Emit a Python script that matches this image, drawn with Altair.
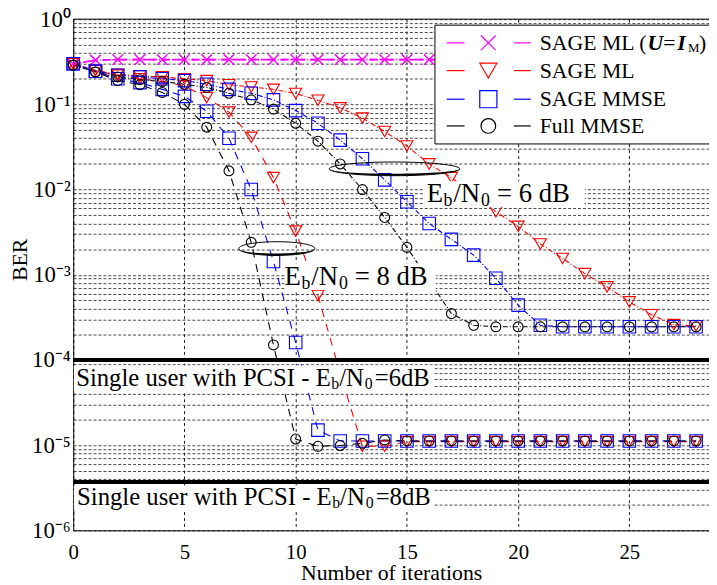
import altair as alt
import pandas as pd

# ---------------- values ----------------
iters = list(range(29))

methods = ["SAGE ML (U=I_M)", "SAGE ML", "SAGE MMSE", "Full MMSE"]
method_colors = ["#ff00ff", "#ff0000", "#0000ff", "#000000"]

ber_mlI_6dB = [0.30, 0.33, 0.335, 0.335, 0.335, 0.335, 0.335, 0.335, 0.335, 0.335,
               0.335, 0.335, 0.335, 0.335, 0.335, 0.335, 0.335, 0.335, 0.335, 0.335,
               0.335, 0.335, 0.335, 0.335, 0.335, 0.335, 0.335, 0.335, 0.335]
ber_mlI_8dB = [0.30, 0.33, 0.335, 0.335, 0.335, 0.335, 0.335, 0.335, 0.335, 0.335,
               0.335, 0.335, 0.335, 0.335, 0.335, 0.335, 0.335, 0.335, 0.335, 0.335,
               0.335, 0.335, 0.335, 0.335, 0.335, 0.335, 0.335, 0.335, 0.335]
ber_ml_6dB = [0.30, 0.25, 0.225, 0.215, 0.21, 0.20, 0.19, 0.17, 0.16, 0.15,
              0.134, 0.112, 0.091, 0.069, 0.048, 0.0325, 0.020, 0.0138, 0.0087, 0.0055,
              0.0037, 0.0023, 0.00155, 0.00103, 0.00072, 0.00048, 0.00034, 0.00026, 0.00025]
ber_ml_8dB = [0.30, 0.25, 0.22, 0.20, 0.185, 0.165, 0.12, 0.081, 0.041, 0.0138,
              0.00325, 0.00057, 0.00007, 0.0000097, 0.0000097, 0.000011, 0.000011, 0.000011, 0.000011, 0.000011,
              0.000011, 0.000011, 0.000011, 0.000011, 0.000011, 0.000011, 0.000011, 0.000011, 0.000011]
ber_mmse_6dB = [0.30, 0.245, 0.22, 0.21, 0.20, 0.19, 0.172, 0.15, 0.135, 0.113,
                0.0845, 0.060, 0.038, 0.023, 0.013, 0.0072, 0.0040, 0.0026, 0.0017, 0.00091,
                0.00044, 0.000255, 0.000245, 0.000245, 0.000245, 0.000245, 0.000245, 0.000245, 0.000245]
ber_mmse_8dB = [0.30, 0.245, 0.20, 0.18, 0.15, 0.124, 0.083, 0.040, 0.010, 0.00143,
                0.00016, 0.000015, 0.0000112, 0.0000112, 0.0000112, 0.0000112, 0.0000112, 0.0000112, 0.0000112, 0.0000112,
                0.0000112, 0.0000112, 0.0000112, 0.0000112, 0.0000112, 0.0000112, 0.0000112, 0.0000112, 0.0000112]
ber_full_6dB = [0.29, 0.24, 0.21, 0.195, 0.185, 0.172, 0.158, 0.135, 0.113, 0.088,
                0.060, 0.037, 0.020, 0.010, 0.0047, 0.0021, 0.00085, 0.00035, 0.000255, 0.000245,
                0.000245, 0.000245, 0.000245, 0.000245, 0.000245, 0.000245, 0.000245, 0.000245, 0.000245]
ber_full_8dB = [0.29, 0.24, 0.19, 0.17, 0.138, 0.10, 0.054, 0.0166, 0.0024, 0.00015,
                0.0000118, 0.0000097, 0.0000099, 0.0000105, 0.0000115, 0.0000112, 0.0000112, 0.0000112, 0.0000112, 0.0000112,
                0.0000112, 0.0000112, 0.0000112, 0.0000112, 0.0000112, 0.0000112, 0.0000112, 0.0000112, 0.0000112]

single_user_ber = [1.0e-4, 3.7e-6]          # 6 dB, 8 dB reference lines

x_ticks = [0, 5, 10, 15, 20, 25]
decade_labels = {0: "10\u2070", -1: "10\u207b\u00b9", -2: "10\u207b\u00b2", -3: "10\u207b\u00b3",
                 -4: "10\u207b\u2074", -5: "10\u207b\u2075", -6: "10\u207b\u2076"}

# ---------------- layout constants ----------------
FONT = "Liberation Serif"
W, H = 643, 517
X_MAX = 28.58
PX = W / X_MAX  # pixels per iteration


def shift(it, dx_px):
    return it + dx_px / PX


series = [
    (methods[0], "6 dB", ber_mlI_6dB), (methods[0], "8 dB", ber_mlI_8dB),
    (methods[1], "6 dB", ber_ml_6dB), (methods[1], "8 dB", ber_ml_8dB),
    (methods[2], "6 dB", ber_mmse_6dB), (methods[2], "8 dB", ber_mmse_8dB),
    (methods[3], "6 dB", ber_full_6dB), (methods[3], "8 dB", ber_full_8dB),
]
marker_size = {methods[0]: 110, methods[1]: 150, methods[2]: 160, methods[3]: 100}
legend_marker_size = {methods[0]: 220, methods[1]: 300, methods[2]: 300, methods[3]: 220}
line_width = {methods[0]: 1.6, methods[1]: 1.1, methods[2]: 1.1, methods[3]: 1.1}

rows = []
for m, snr, vals in series:
    for k, v in zip(iters, vals):
        rows.append({"iter": k, "ber": v, "method": m, "snr": snr, "sid": m + snr,
                     "msize": marker_size[m], "lw": line_width[m]})
df = pd.DataFrame(rows)

# ---------------- scales / axes ----------------
xs = alt.Scale(domain=[0, X_MAX], nice=False, zero=False)
ys = alt.Scale(type="log", domain=[1e-6, 1], nice=False)

y_values = []
for e in range(-6, 0):
    for mm in range(1, 10):
        y_values.append(float(f"{mm}e{e}"))
y_values.append(1.0)

label_expr = ""
for e, lab in decade_labels.items():
    v = float(f"1e{e}")
    label_expr += f"abs(datum.value - {v}) < {v * 1e-3} ? '{lab}' : "
label_expr += "''"

xaxis = alt.Axis(values=x_ticks, grid=True, gridColor="#000000", gridDash=[3, 3], gridWidth=0.9,
                 ticks=False, tickSize=0, domainColor="#000000", domainWidth=1,
                 labelFont=FONT, labelFontSize=21, labelColor="#000000", labelBaseline="alphabetic",
                 labelPadding=28, labelFlush=False, labelOverlap=False,
                 title="Number of iterations", titleFont=FONT, titleFontSize=22,
                 titleFontWeight="normal", titleColor="#000000", titleBaseline="alphabetic",
                 titleY=50)
yaxis = alt.Axis(values=y_values, labelExpr=label_expr, grid=True, gridColor="#333333",
                 gridDash=[3, 2], gridWidth=0.9, ticks=False, tickSize=0,
                 domainColor="#000000", domainWidth=1, labelFont=FONT, labelFontSize=23,
                 labelColor="#000000", labelBaseline="middle", labelPadding=3, labelOverlap=False,
                 labelBound=False, labelFlush=False,
                 title="BER", titleFont=FONT, titleFontSize=22, titleFontWeight="normal",
                 titleColor="#000000", titleX=-54, titleY=243, titleAngle=270,
                 titleAlign="center", titleBaseline="middle")


def X():
    return alt.X("iter:Q", scale=xs, axis=xaxis)


def Y():
    return alt.Y("ber:Q", scale=ys, axis=yaxis)


color = alt.Color("method:N", scale=alt.Scale(domain=methods, range=method_colors), legend=None)

XPATH = "M-1,-1L1,1M-1,1L1,-1"

lines = alt.Chart(df).mark_line().encode(
    x=X(), y=Y(), color=color,
    strokeDash=alt.StrokeDash("snr:N", scale=alt.Scale(domain=["6 dB", "8 dB"],
                                                        range=[[5, 2, 1, 2], [8, 7]]), legend=None),
    strokeWidth=alt.StrokeWidth("lw:Q", scale=None),
    detail="sid:N", order="iter:Q")

points = alt.Chart(df).mark_point(filled=False, strokeWidth=1.1, opacity=1).encode(
    x=X(), y=Y(), color=color,
    shape=alt.Shape("method:N", scale=alt.Scale(domain=methods,
                                                range=[XPATH, "triangle-down", "square", "circle"]),
                    legend=None),
    size=alt.Size("msize:Q", scale=None))

thick = alt.Chart(pd.DataFrame({"ber": single_user_ber})).mark_rule(
    strokeWidth=4, color="#000000").encode(y=Y())

# white backgrounds behind text annotations
boxes = pd.DataFrame([
    {"iter": 0.03, "iter2": 16.2, "ber": 8.6e-5, "ber2": 4.3e-5},
    {"iter": 0.03, "iter2": 16.2, "ber": 3.26e-6, "ber2": 1.76e-6},
    {"iter": 15.8, "iter2": 23.0, "ber": 0.0125, "ber2": 0.00625},
    {"iter": 9.55, "iter2": 16.3, "ber": 1.36e-3, "ber2": 6.6e-4},
])
box_layer = alt.Chart(boxes).mark_rect(fill="white", stroke=None).encode(
    x=X(), x2="iter2:Q", y=Y(), y2="ber2:Q")


# ellipses
def ellipse_path(k):
    a = 0.5523 * k
    return (f"M1,0C1,{a:.4f} 0.5523,{k:.4f} 0,{k:.4f}C-0.5523,{k:.4f} -1,{a:.4f} -1,0"
            f"C-1,{-a:.4f} -0.5523,{-k:.4f} 0,{-k:.4f}C0.5523,{-k:.4f} 1,{-a:.4f} 1,0Z")


def crescent_path(k, ratio):
    a = 0.5523 * k
    k2 = ratio * k
    a2 = 0.5523 * k2
    return (f"M-1,0C-1,{a:.4f} -0.5523,{k:.4f} 0,{k:.4f}C0.5523,{k:.4f} 1,{a:.4f} 1,0"
            f"C1,{a2:.4f} 0.5523,{k2:.4f} 0,{k2:.4f}C-0.5523,{k2:.4f} -0.97,{a2 * 1.3:.4f} -1,0Z")


ell_df = pd.DataFrame([{"iter": 14.44, "ber": 0.0175}])
ell_df2 = pd.DataFrame([{"iter": 9.15, "ber": 0.00203}])
ell1 = alt.Chart(ell_df).mark_point(shape=ellipse_path(0.105), size=17424, filled=False,
                                    stroke="#000000", strokeWidth=1.0, opacity=1).encode(x=X(), y=Y())
ell1c = alt.Chart(ell_df).mark_point(shape=crescent_path(0.105, 0.72), size=17424, filled=True,
                                     fill="#000000", strokeWidth=0, opacity=1).encode(x=X(), y=Y())
ell2 = alt.Chart(ell_df2).mark_point(shape=ellipse_path(0.18), size=5929, filled=False,
                                     stroke="#000000", strokeWidth=1.0, opacity=1).encode(x=X(), y=Y())
ell2c = alt.Chart(ell_df2).mark_point(shape=crescent_path(0.18, 0.72), size=5929, filled=True,
                                      fill="#000000", strokeWidth=0, opacity=1).encode(x=X(), y=Y())

# annotation texts  (pieces so that subscripts can be drawn)
ann_main, ann_sub = [], []
for it0, b0, snr in [(15.89, 8.75e-3, "6"), (9.5, 9.5e-4, "8")]:
    ann_main += [{"iter": shift(it0, 0), "ber": b0, "text": "E"},
                 {"iter": shift(it0, 27), "ber": b0, "text": "/N"},
                 {"iter": shift(it0, 71), "ber": b0, "text": f"= {snr} dB"}]
    ann_sub += [{"iter": shift(it0, 17), "ber": b0, "text": "b"},
                {"iter": shift(it0, 55), "ber": b0, "text": "0"}]

su_main, su_sub = [], []
for it0, b0, snr in [(0.13, 6.2e-5, "6"), (0.17, 2.45e-6, "8")]:
    su_main += [{"iter": shift(it0, 0), "ber": b0, "text": "Single user with PCSI - E"},
                {"iter": shift(it0, 266), "ber": b0, "text": "/N"},
                {"iter": shift(it0, 302), "ber": b0, "text": f"={snr}dB"}]
    su_sub += [{"iter": shift(it0, 258), "ber": b0, "text": "b"},
               {"iter": shift(it0, 292), "ber": b0, "text": "0"}]


def text_layer(records, size, dy=0, style="normal", weight="normal"):
    return alt.Chart(pd.DataFrame(records)).mark_text(
        align="left", baseline="middle", font=FONT, fontSize=size, dy=dy,
        fontStyle=style, fontWeight=weight, color="#000000").encode(x=X(), y=Y(), text="text:N")


# ---------------- manual legend ----------------
legend_rows_ber = [0.527, 0.249, 0.115, 0.0558]
LEG_SEG1 = (16.79, 17.59)
LEG_SEG2 = (19.81, 20.57)
LEG_MARK = 18.66
LEG_TEXT = 20.97

leg_box = alt.Chart(pd.DataFrame([{"iter": 16.26, "iter2": X_MAX + 2, "ber": 0.85, "ber2": 0.0343}])
                    ).mark_rect(fill="white", stroke="#000000", strokeWidth=1).encode(
    x=X(), x2="iter2:Q", y=Y(), y2="ber2:Q")

seg_rows, mark_rows = [], []
for m, b in zip(methods, legend_rows_ber):
    for s in (LEG_SEG1, LEG_SEG2):
        seg_rows.append({"iter": s[0], "iter2": s[1], "ber": b, "method": m})
    mark_rows.append({"iter": LEG_MARK, "ber": b, "method": m, "msize": legend_marker_size[m]})
leg_seg = alt.Chart(pd.DataFrame(seg_rows)).mark_rule(strokeWidth=1.2).encode(
    x=X(), x2="iter2:Q", y=Y(), color=color)
leg_mark = alt.Chart(pd.DataFrame(mark_rows)).mark_point(filled=False, strokeWidth=1.2, opacity=1).encode(
    x=X(), y=Y(), color=color,
    shape=alt.Shape("method:N", scale=alt.Scale(domain=methods,
                                                range=[XPATH, "triangle-down", "square", "circle"]),
                    legend=None),
    size=alt.Size("msize:Q", scale=None))

b0 = legend_rows_ber[0]
leg_main = [{"iter": shift(LEG_TEXT, 0), "ber": b0, "text": "SAGE ML ("},
            {"iter": shift(LEG_TEXT, 125), "ber": b0, "text": "="},
            {"iter": shift(LEG_TEXT, 161), "ber": b0, "text": ")"}]
for m, b in zip(methods[1:], legend_rows_ber[1:]):
    leg_main.append({"iter": LEG_TEXT, "ber": b, "text": m})
leg_bi = [{"iter": shift(LEG_TEXT, 109), "ber": b0, "text": "U"},
          {"iter": shift(LEG_TEXT, 139), "ber": b0, "text": "I"}]
leg_sub = [{"iter": shift(LEG_TEXT, 150), "ber": b0, "text": "M"}]

top_border = alt.Chart(pd.DataFrame({"ber": [1.0]})).mark_rule(color="#000000", strokeWidth=1).encode(y=Y())

layers = [
    lines, points, thick, box_layer, ell1, ell1c, ell2, ell2c,
    text_layer(ann_main, 27), text_layer(ann_sub, 18, dy=7),
    text_layer(su_main, 25), text_layer(su_sub, 16, dy=6),
    leg_box, leg_seg, leg_mark,
    text_layer(leg_main, 22), text_layer(leg_bi, 22, style="italic", weight="bold"),
    text_layer(leg_sub, 13, dy=5),
    top_border,
]

chart = alt.layer(*layers).properties(
    width=W, height=H,
    autosize=alt.AutoSizeParams(type="none"),
    padding={"left": 66, "top": 8, "right": 0, "bottom": 52},
    background="white",
).configure_view(stroke=None)

chart.save("out.html", embed_options={"renderer": "svg", "actions": False})
